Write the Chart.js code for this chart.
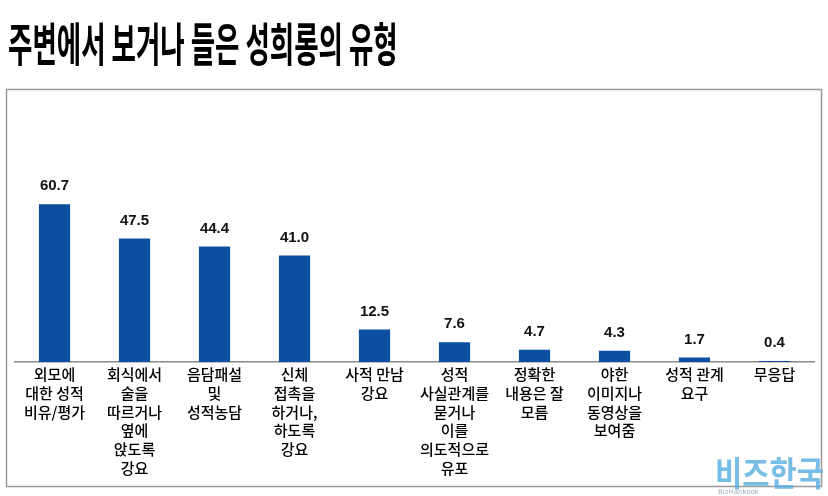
<!DOCTYPE html>
<html>
<head>
<meta charset="utf-8">
<script src="https://cdn.jsdelivr.net/npm/chart.js@4"></script>
<style>
  body { margin: 0; background: #fff; }
  #wrap { position: relative; width: 828px; height: 496px; }
  #title {
    position: absolute; left: 8px; top: 18px; margin: 0;
    font: bold 46px "Noto Sans CJK KR", sans-serif; line-height: 1;
    color: #000; white-space: nowrap; transform-origin: left top;
  }
  canvas { position: absolute; left: 0; top: 0; }
</style>
</head>
<body>
<div id="wrap">
  <canvas id="chart" width="828" height="496"></canvas>
  <h1 id="title">주변에서 보거나 들은 성희롱의 유형</h1>
</div>
<script>
// 항목 (줄바꿈은 원본 그대로)
const categories = [
  ['외모에', '대한 성적', '비유/평가'],
  ['회식에서', '술을', '따르거나', '옆에', '앉도록', '강요'],
  ['음담패설', '및', '성적농담'],
  ['신체', '접촉을', '하거나,', '하도록', '강요'],
  ['사적 만남', '강요'],
  ['성적', '사실관계를', '묻거나', '이를', '의도적으로', '유포'],
  ['정확한', '내용은 잘', '모름'],
  ['야한', '이미지나', '동영상을', '보여줌'],
  ['성적 관계', '요구'],
  ['무응답']
];
const values = [60.7, 47.5, 44.4, 41.0, 12.5, 7.6, 4.7, 4.3, 1.7, 0.4];

// 제목 폭 맞추기 (원본은 좁은 헤드라인 글꼴)
const title = document.getElementById('title');
title.style.transform = 'scaleX(' + (390 / title.scrollWidth) + ')';

// 바깥 테두리, 값 라벨, 워터마크
const extras = {
  id: 'extras',
  beforeDraw(chart) {
    const ctx = chart.ctx;
    ctx.save();
    ctx.strokeStyle = '#9a9a9a';
    ctx.lineWidth = 1.5;
    ctx.strokeRect(6.5, 89.5, 815, 397);
    ctx.restore();
  },
  afterDatasetsDraw(chart) {
    const ctx = chart.ctx;
    const meta = chart.getDatasetMeta(0);
    ctx.save();
    ctx.font = 'bold 15px "Liberation Sans", Arial, sans-serif';
    ctx.fillStyle = '#111';
    ctx.textAlign = 'center';
    ctx.textBaseline = 'middle';
    meta.data.forEach((bar, i) => {
      ctx.fillText(values[i].toFixed(1), bar.x, bar.y - 18);
    });
    ctx.restore();
  },
  afterDraw(chart) {
    const ctx = chart.ctx;
    ctx.save();
    ctx.font = 'bold 34px "Noto Sans CJK KR", sans-serif';
    ctx.fillStyle = 'rgba(95, 178, 225, 0.85)';
    ctx.textBaseline = 'alphabetic';
    const w = ctx.measureText('비즈한국').width;
    ctx.translate(715, 486);
    ctx.scale(109 / w, 1);
    ctx.fillText('비즈한국', 0, 0);
    ctx.restore();
    ctx.save();
    ctx.font = '7px "DejaVu Sans", sans-serif';
    ctx.fillStyle = 'rgba(120, 140, 160, 0.7)';
    ctx.fillText('BizHankook', 718, 494);
    ctx.restore();
  }
};

new Chart(document.getElementById('chart'), {
  type: 'bar',
  data: {
    labels: categories,
    datasets: [{
      data: values,
      backgroundColor: '#0b4ea2',
      barPercentage: 0.39,
      categoryPercentage: 1
    }]
  },
  options: {
    responsive: false,
    animation: false,
    layout: { padding: { left: 14.5, right: 13.5, top: 154, bottom: 0 } },
    plugins: {
      legend: { display: false },
      tooltip: { enabled: false }
    },
    scales: {
      y: { display: false, min: 0, max: 80 },
      x: {
        grid: { display: false },
        border: { display: true, color: '#8a8a8a', width: 1.5 },
        ticks: {
          color: '#000',
          padding: -5,
          maxRotation: 0,
          autoSkip: false,
          font: { family: '"Noto Sans CJK KR", sans-serif', size: 15, weight: 500, lineHeight: 1.25 }
        },
        afterFit(scale) { scale.height = 134; }
      }
    }
  },
  plugins: [extras]
});
</script>
</body>
</html>
